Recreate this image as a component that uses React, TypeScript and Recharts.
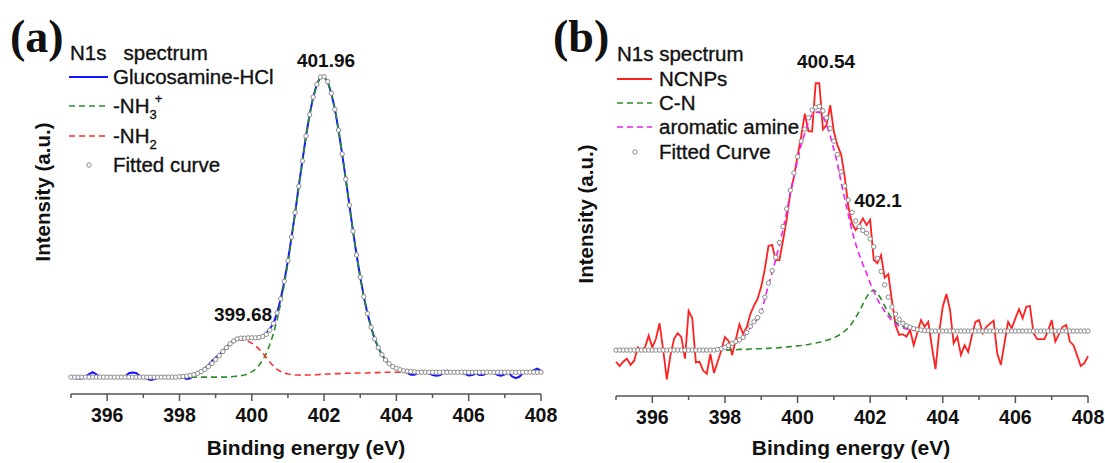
import { ComposedChart, Line, XAxis, YAxis } from "recharts";

// binding energy grid (eV), one point every 0.1 eV
const energy = [
  395.0, 395.1, 395.2, 395.3, 395.4, 395.5, 395.6, 395.7, 395.8, 395.9,
  396.0, 396.1, 396.2, 396.3, 396.4, 396.5, 396.6, 396.7, 396.8, 396.9,
  397.0, 397.1, 397.2, 397.3, 397.4, 397.5, 397.6, 397.7, 397.8, 397.9,
  398.0, 398.1, 398.2, 398.3, 398.4, 398.5, 398.6, 398.7, 398.8, 398.9,
  399.0, 399.1, 399.2, 399.3, 399.4, 399.5, 399.6, 399.7, 399.8, 399.9,
  400.0, 400.1, 400.2, 400.3, 400.4, 400.5, 400.6, 400.7, 400.8, 400.9,
  401.0, 401.1, 401.2, 401.3, 401.4, 401.5, 401.6, 401.7, 401.8, 401.9,
  402.0, 402.1, 402.2, 402.3, 402.4, 402.5, 402.6, 402.7, 402.8, 402.9,
  403.0, 403.1, 403.2, 403.3, 403.4, 403.5, 403.6, 403.7, 403.8, 403.9,
  404.0, 404.1, 404.2, 404.3, 404.4, 404.5, 404.6, 404.7, 404.8, 404.9,
  405.0, 405.1, 405.2, 405.3, 405.4, 405.5, 405.6, 405.7, 405.8, 405.9,
  406.0, 406.1, 406.2, 406.3, 406.4, 406.5, 406.6, 406.7, 406.8, 406.9,
  407.0, 407.1, 407.2, 407.3, 407.4, 407.5, 407.6, 407.7, 407.8, 407.9,
  408.0,
];

// (a) Glucosamine-HCl
const glucosamine = [
  4.6, 4.5, 4.4, 4.4, 4.9, 5.7, 6.2, 5.6, 4.8, 4.6,
  4.7, 4.9, 4.8, 4.6, 4.5, 5.0, 5.9, 6.1, 6.0, 5.2,
  4.7, 4.3, 4.0, 4.2, 4.7, 4.8, 4.9, 4.8, 4.8, 4.8,
  4.7, 4.6, 4.3, 4.5, 5.4, 6.0, 6.6, 7.3, 8.2, 9.4,
  10.4, 11.2, 12.3, 13.4, 14.3, 15.1, 15.6, 15.9, 15.9, 16.0,
  16.0, 16.0, 16.2, 16.6, 17.3, 18.6, 20.1, 23.1, 27.1, 32.1,
  38.0, 44.7, 51.7, 59.2, 66.4, 73.5, 79.6, 84.6, 88.2, 90.3,
  90.4, 89.0, 85.7, 81.1, 75.2, 68.4, 61.2, 53.8, 46.4, 39.6,
  33.3, 27.7, 22.9, 19.0, 15.7, 13.2, 11.2, 9.7, 8.6, 7.8,
  7.3, 6.8, 6.4, 6.0, 5.5, 5.5, 6.0, 6.2, 6.2, 5.9,
  5.4, 5.2, 5.3, 6.0, 6.6, 6.5, 6.2, 6.2, 6.1, 5.7,
  5.3, 5.4, 5.8, 5.4, 5.4, 6.0, 6.4, 6.1, 5.4, 5.2,
  5.6, 6.1, 5.0, 4.5, 4.9, 5.9, 6.3, 6.3, 6.8, 7.2,
  6.6,
];

const nh3 = [
  4.8, 4.8, 4.8, 4.8, 4.8, 4.8, 4.8, 4.8, 4.8, 4.8,
  4.8, 4.8, 4.8, 4.8, 4.8, 4.8, 4.8, 4.8, 4.8, 4.8,
  4.8, 4.8, 4.8, 4.8, 4.8, 4.8, 4.8, 4.8, 4.8, 4.8,
  4.8, 4.8, 4.8, 4.8, 4.8, 4.8, 4.8, 4.8, 4.8, 4.8,
  4.8, 4.8, 4.8, 4.8, 4.9, 5.0, 5.1, 5.2, 5.4, 5.8,
  6.3, 7.0, 8.2, 9.6, 11.5, 14.1, 17.2, 21.1, 25.8, 31.2,
  37.4, 44.3, 51.5, 59.1, 66.4, 73.5, 79.6, 84.6, 88.2, 90.3,
  90.4, 89.0, 85.7, 81.1, 75.2, 68.4, 61.2, 53.8, 46.4, 39.6,
  33.3, 27.7, 22.9, 19.0, 15.7, 13.2, 11.2, 9.7, 8.6, 7.8,
  7.3, 6.9, 6.6, 6.5, 6.4, 6.3, 6.2, 6.2, 6.2, 6.2,
  6.2, 6.2, 6.2, 6.2, 6.2, 6.2, 6.2, 6.2, 6.2, 6.2,
  6.2, 6.2, 6.2, 6.2, 6.2, 6.2, 6.2, 6.2, 6.2, 6.2,
  6.2, 6.2, 6.2, 6.2, 6.2, 6.2, 6.2, 6.2, 6.2, 6.2,
  6.2,
];

const nh2 = [
  4.8, 4.8, 4.8, 4.8, 4.8, 4.8, 4.8, 4.8, 4.8, 4.8,
  4.8, 4.8, 4.8, 4.8, 4.8, 4.8, 4.8, 4.8, 4.8, 4.8,
  4.8, 4.8, 4.8, 4.8, 4.8, 4.8, 4.8, 4.8, 4.8, 4.8,
  4.9, 5.0, 5.1, 5.3, 5.5, 5.9, 6.4, 7.0, 7.8, 8.7,
  9.8, 10.9, 12.1, 13.2, 14.2, 14.9, 15.4, 15.5, 15.3, 15.0,
  14.5, 13.8, 12.8, 11.7, 10.4, 9.1, 7.9, 7.0, 6.4, 6.0,
  5.7, 5.6, 5.4, 5.4, 5.3, 5.4, 5.4, 5.5, 5.5, 5.6,
  5.6, 5.7, 5.7, 5.8, 5.8, 5.8, 5.9, 5.9, 5.9, 6.0,
  6.0, 6.0, 6.0, 6.1, 6.1, 6.1, 6.2, 6.2, 6.2, 6.2,
  6.2, 6.2, 6.2, 6.2, 6.2, 6.2, 6.2, 6.2, 6.2, 6.2,
  6.2, 6.2, 6.2, 6.2, 6.2, 6.2, 6.2, 6.2, 6.2, 6.2,
  6.2, 6.2, 6.2, 6.2, 6.2, 6.2, 6.2, 6.2, 6.2, 6.2,
  6.2, 6.2, 6.2, 6.2, 6.2, 6.2, 6.2, 6.2, 6.2, 6.2,
  6.2,
];

const fittedA = [
  4.8, 4.8, 4.8, 4.8, 4.8, 4.8, 4.8, 4.8, 4.8, 4.8,
  4.8, 4.8, 4.8, 4.8, 4.8, 4.8, 4.8, 4.8, 4.8, 4.8,
  4.8, 4.8, 4.8, 4.8, 4.8, 4.8, 4.8, 4.8, 4.8, 4.8,
  4.9, 5.0, 5.1, 5.3, 5.5, 5.9, 6.4, 7.0, 7.8, 8.7,
  9.8, 10.9, 12.1, 13.2, 14.3, 15.1, 15.7, 15.9, 15.9, 16.0,
  16.0, 16.0, 16.1, 16.4, 17.0, 18.2, 20.1, 23.1, 27.1, 32.1,
  38.0, 44.7, 51.7, 59.2, 66.4, 73.5, 79.6, 84.6, 88.2, 90.3,
  90.4, 89.0, 85.7, 81.1, 75.2, 68.4, 61.2, 53.8, 46.4, 39.6,
  33.3, 27.7, 22.9, 19.0, 15.7, 13.2, 11.2, 9.7, 8.6, 7.8,
  7.3, 6.9, 6.6, 6.5, 6.4, 6.3, 6.2, 6.2, 6.2, 6.2,
  6.2, 6.2, 6.2, 6.2, 6.2, 6.2, 6.2, 6.2, 6.2, 6.2,
  6.2, 6.2, 6.2, 6.2, 6.2, 6.2, 6.2, 6.2, 6.2, 6.2,
  6.2, 6.2, 6.2, 6.2, 6.2, 6.2, 6.2, 6.2, 6.2, 6.2,
  6.2,
];

// (b) NCNPs
const ncnps = [
  9.7, 8.5, 9.7, 10.6, 8.8, 10.0, 13.8, 12.9, 13.8, 17.1,
  13.8, 16.2, 20.6, 13.0, 4.7, 11.6, 16.2, 17.8, 16.7, 10.6,
  24.1, 22.0, 9.5, 9.7, 7.2, 6.3, 11.9, 6.5, 9.7, 12.9,
  16.7, 15.6, 11.6, 16.0, 20.3, 17.6, 19.5, 23.2, 25.6, 27.5,
  31.0, 36.0, 42.5, 42.8, 38.5, 38.5, 44.0, 50.0, 57.5, 62.0,
  68.0, 73.5, 80.0, 75.0, 74.9, 88.6, 88.6, 75.5, 76.8, 82.4,
  74.9, 71.0, 68.5, 62.0, 53.6, 48.9, 47.0, 48.4, 50.3, 48.4,
  49.9, 38.5, 37.6, 39.9, 33.5, 34.5, 27.0, 20.0, 17.3, 17.5,
  16.8, 18.7, 14.4, 18.0, 21.5, 19.6, 21.0, 14.0, 7.6, 18.0,
  25.3, 28.9, 24.4, 14.9, 16.8, 11.6, 14.4, 12.5, 17.0, 21.0,
  21.5, 17.8, 19.6, 20.5, 21.3, 12.1, 8.8, 15.0, 21.0, 19.2,
  22.0, 24.6, 22.0, 25.3, 25.5, 17.8, 16.1, 16.1, 16.1, 18.5,
  21.5, 15.4, 17.5, 19.6, 20.1, 15.4, 14.4, 11.5, 8.5, 9.3,
  11.3,
];

const cn = [
  13.0, 13.0, 13.0, 13.0, 13.0, 13.0, 13.0, 13.0, 13.0, 13.0,
  13.0, 13.0, 13.0, 13.0, 13.0, 13.0, 13.0, 13.0, 13.0, 13.0,
  13.0, 13.0, 13.0, 13.0, 13.0, 13.0, 13.0, 13.0, 13.0, 13.0,
  13.0, 13.0, 13.1, 13.1, 13.2, 13.2, 13.2, 13.3, 13.3, 13.4,
  13.4, 13.5, 13.5, 13.6, 13.6, 13.7, 13.8, 13.9, 14.0, 14.1,
  14.2, 14.3, 14.5, 14.6, 14.8, 15.0, 15.2, 15.5, 15.8, 16.1,
  16.5, 17.0, 17.6, 18.4, 19.3, 20.6, 22.2, 24.0, 26.0, 28.0,
  29.5, 30.0, 29.2, 27.5, 25.5, 23.5, 22.0, 21.0, 20.2, 19.7,
  19.3, 19.1, 18.9, 18.7, 18.6, 18.5, 18.5, 18.4, 18.4, 18.4,
  18.4, 18.4, 18.4, 18.4, 18.4, 18.4, 18.4, 18.4, 18.4, 18.4,
  18.4, 18.4, 18.4, 18.4, 18.4, 18.4, 18.4, 18.4, 18.4, 18.4,
  18.4, 18.4, 18.4, 18.4, 18.4, 18.4, 18.4, 18.4, 18.4, 18.4,
  18.4, 18.4, 18.4, 18.4, 18.4, 18.4, 18.4, 18.4, 18.4, 18.4,
  18.4,
];

const aromatic = [
  13.0, 13.0, 13.0, 13.0, 13.0, 13.0, 13.0, 13.0, 13.0, 13.0,
  13.0, 13.0, 13.0, 13.0, 13.0, 13.0, 13.0, 13.0, 13.0, 13.0,
  13.0, 13.0, 13.0, 13.0, 13.0, 13.0, 13.0, 13.0, 13.2, 13.4,
  13.8, 14.3, 14.8, 15.3, 15.7, 16.4, 17.8, 19.4, 20.7, 21.8,
  23.6, 27.5, 31.5, 34.9, 38.7, 42.8, 47.2, 52.1, 57.3, 62.1,
  66.8, 71.1, 74.4, 77.6, 79.7, 80.4, 80.5, 79.1, 76.9, 73.7,
  69.9, 65.8, 60.5, 55.9, 51.3, 46.8, 43.1, 40.0, 37.3, 34.8,
  32.0, 29.6, 27.4, 25.6, 24.0, 22.6, 21.4, 20.5, 19.8, 19.3,
  19.0, 18.8, 18.6, 18.5, 18.5, 18.4, 18.4, 18.4, 18.4, 18.4,
  18.4, 18.4, 18.4, 18.4, 18.4, 18.4, 18.4, 18.4, 18.4, 18.4,
  18.4, 18.4, 18.4, 18.4, 18.4, 18.4, 18.4, 18.4, 18.4, 18.4,
  18.4, 18.4, 18.4, 18.4, 18.4, 18.4, 18.4, 18.4, 18.4, 18.4,
  18.4, 18.4, 18.4, 18.4, 18.4, 18.4, 18.4, 18.4, 18.4, 18.4,
  18.4,
];

const fittedB = [
  13.0, 13.0, 13.0, 13.0, 13.0, 13.0, 13.0, 13.0, 13.0, 13.0,
  13.0, 13.0, 13.0, 13.0, 13.0, 13.0, 13.0, 13.0, 13.0, 13.0,
  13.0, 13.0, 13.0, 13.0, 13.0, 13.0, 13.0, 13.0, 13.2, 13.4,
  13.8, 14.3, 14.9, 15.4, 15.9, 16.6, 18.0, 19.7, 21.0, 22.2,
  24.0, 28.0, 32.0, 35.5, 39.3, 43.5, 48.0, 53.0, 58.3, 63.2,
  67.8, 72.2, 75.6, 78.8, 81.0, 81.8, 82.0, 80.8, 78.8, 75.8,
  72.2, 68.4, 63.5, 59.5, 55.5, 52.0, 49.6, 48.0, 46.9, 46.1,
  44.5, 42.3, 39.0, 35.3, 31.5, 28.0, 25.2, 23.2, 21.7, 20.6,
  19.9, 19.5, 19.1, 18.8, 18.7, 18.5, 18.5, 18.4, 18.4, 18.4,
  18.4, 18.4, 18.4, 18.4, 18.4, 18.4, 18.4, 18.4, 18.4, 18.4,
  18.4, 18.4, 18.4, 18.4, 18.4, 18.4, 18.4, 18.4, 18.4, 18.4,
  18.4, 18.4, 18.4, 18.4, 18.4, 18.4, 18.4, 18.4, 18.4, 18.4,
  18.4, 18.4, 18.4, 18.4, 18.4, 18.4, 18.4, 18.4, 18.4, 18.4,
  18.4,
];

const xTicks = [395, 396, 397, 398, 399, 400, 401, 402, 403, 404, 405, 406, 407, 408];

const dataA = energy.map((e, i) => ({ e, glu: glucosamine[i], nh3: nh3[i], nh2: nh2[i], fit: fittedA[i] }));
const dataB = energy.map((e, i) => ({ e, raw: ncnps[i], cn: cn[i], aro: aromatic[i], fit: fittedB[i] }));

const SANS = "'Liberation Sans', Arial, sans-serif";
const FRAME = "#555";

function XTick(props: any) {
  const { x, y, payload } = props;
  const major = payload.value % 2 === 0;
  return (
    <g>
      <line x1={x} x2={x} y1={y} y2={y + (major ? 7 : 4)} stroke={FRAME} strokeWidth={1.5} />
      {major && (
        <text x={x} y={y + 28} textAnchor="middle" fontFamily={SANS} fontWeight="bold" fontSize={19.5} fill="#111">
          {payload.value}
        </text>
      )}
    </g>
  );
}

const dotStyle = { r: 2.2, fill: "#fff", stroke: "#8a8a8a", strokeWidth: 1 };

function Frame() {
  return [
    <XAxis key="xb" xAxisId={0} dataKey="e" type="number" domain={[395, 408]} ticks={xTicks} interval={0}
      tick={<XTick />} tickLine={false} tickSize={0} tickMargin={0} height={40}
      axisLine={{ stroke: FRAME, strokeWidth: 1.5 }} />,
    <XAxis key="xt" xAxisId="top" orientation="top" dataKey="e" type="number" domain={[395, 408]}
      tick={false} tickLine={false} height={0} axisLine={{ stroke: FRAME, strokeWidth: 1.5 }} />,
    <YAxis key="yl" yAxisId={0} type="number" domain={[0, 100]} tick={false} tickLine={false} width={0}
      axisLine={{ stroke: FRAME, strokeWidth: 1.5 }} />,
    <YAxis key="yr" yAxisId="r" orientation="right" type="number" domain={[0, 100]} tick={false} tickLine={false}
      width={0} axisLine={{ stroke: FRAME, strokeWidth: 1.5 }} />,
  ];
}

export default function App() {
  const txt = { fontFamily: SANS, fill: "#111" };
  // legend text is a little heavier than plain regular in the original
  const leg = { fontFamily: SANS, fill: "#111", stroke: "#111", strokeWidth: 0.35, fontSize: 20.5 };
  return (
    <div style={{ position: "absolute", left: 0, top: 0, width: 1105, height: 463, background: "#fff" }}>
      <div style={{ position: "absolute", left: 0, top: 0 }}>
        <ComposedChart width={560} height={463} data={dataA} margin={{ top: 43, right: 19, bottom: 29, left: 71 }}>
          {Frame()}
          <Line dataKey="glu" type="linear" stroke="#1515ff" strokeWidth={2} dot={false} activeDot={false} isAnimationActive={false} />
          <Line dataKey="nh3" type="linear" stroke="#2a8f2a" strokeWidth={1.6} strokeDasharray="6 4" dot={false} activeDot={false} isAnimationActive={false} />
          <Line dataKey="nh2" type="linear" stroke="#ff3030" strokeWidth={1.6} strokeDasharray="6 4" dot={false} activeDot={false} isAnimationActive={false} />
          <Line dataKey="fit" type="linear" stroke="none" dot={dotStyle} activeDot={false} isAnimationActive={false} />
        </ComposedChart>
      </div>
      <div style={{ position: "absolute", left: 560, top: 0 }}>
        <ComposedChart width={545} height={463} data={dataB} margin={{ top: 43, right: 17, bottom: 27, left: 56 }}>
          {Frame()}
          <Line dataKey="raw" type="linear" stroke="#ff2020" strokeWidth={1.8} dot={false} activeDot={false} isAnimationActive={false} />
          <Line dataKey="cn" type="linear" stroke="#2a8f2a" strokeWidth={1.6} strokeDasharray="6 4" dot={false} activeDot={false} isAnimationActive={false} />
          <Line dataKey="aro" type="linear" stroke="#f020f0" strokeWidth={1.6} strokeDasharray="6 4" dot={false} activeDot={false} isAnimationActive={false} />
          <Line dataKey="fit" type="linear" stroke="none" dot={dotStyle} activeDot={false} isAnimationActive={false} />
        </ComposedChart>
      </div>
      <svg width={1105} height={463} style={{ position: "absolute", left: 0, top: 0, pointerEvents: "none" }}>
        {/* panel letters */}
        <text x={10} y={52} fontFamily="'Liberation Serif', 'Times New Roman', serif" fontWeight="bold" fontSize={46} fill="#111">(a)</text>
        <text x={553} y={52} fontFamily="'Liberation Serif', 'Times New Roman', serif" fontWeight="bold" fontSize={46} fill="#111">(b)</text>

        {/* axis titles */}
        <text x={306} y={455} textAnchor="middle" fontWeight="bold" fontSize={21} {...txt}>Binding energy (eV)</text>
        <text x={851} y={455} textAnchor="middle" fontWeight="bold" fontSize={21} {...txt}>Binding energy (eV)</text>
        <text transform="translate(50,192) rotate(-90)" textAnchor="middle" fontWeight="bold" fontSize={20.5} {...txt}>Intensity (a.u.)</text>
        <text transform="translate(593,214) rotate(-90)" textAnchor="middle" fontWeight="bold" fontSize={20.5} {...txt}>Intensity (a.u.)</text>

        {/* peak labels */}
        <text x={326} y={67} textAnchor="middle" fontWeight="bold" fontSize={19} {...txt}>401.96</text>
        <text x={243} y={321} textAnchor="middle" fontWeight="bold" fontSize={19} {...txt}>399.68</text>
        <text x={826} y={68} textAnchor="middle" fontWeight="bold" fontSize={19} {...txt}>400.54</text>
        <text x={878} y={207} textAnchor="middle" fontWeight="bold" fontSize={19} {...txt}>402.1</text>

        {/* legend (a) */}
        <text x={70} y={60} {...leg} xmlSpace="preserve">N1s   spectrum</text>
        <line x1={69} x2={108} y1={77} y2={77} stroke="#1515ff" strokeWidth={2} />
        <text x={113} y={84} {...leg}>Glucosamine-HCl</text>
        <line x1={69} x2={108} y1={106} y2={106} stroke="#2a8f2a" strokeWidth={1.6} strokeDasharray="6 4" />
        <text x={113} y={113} {...leg}>-NH<tspan fontSize={13} dy={6}>3</tspan><tspan fontSize={13} dx={-2} dy={-16}>+</tspan></text>
        <line x1={69} x2={108} y1={136} y2={136} stroke="#ff3030" strokeWidth={1.6} strokeDasharray="6 4" />
        <text x={113} y={143} {...leg}>-NH<tspan fontSize={13} dy={6}>2</tspan></text>
        <circle cx={89} cy={165} r={2.2} fill="#fff" stroke="#8a8a8a" strokeWidth={1} />
        <text x={113} y={172} {...leg}>Fitted curve</text>

        {/* legend (b) */}
        <text x={617} y={61} {...leg}>N1s spectrum</text>
        <line x1={617} x2={652} y1={79} y2={79} stroke="#ff2020" strokeWidth={1.8} />
        <text x={659} y={86} {...leg}>NCNPs</text>
        <line x1={617} x2={652} y1={103} y2={103} stroke="#2a8f2a" strokeWidth={1.6} strokeDasharray="6 4" />
        <text x={659} y={110} {...leg}>C-N</text>
        <line x1={617} x2={652} y1={127} y2={127} stroke="#f020f0" strokeWidth={1.6} strokeDasharray="6 4" />
        <text x={659} y={134} {...leg}>aromatic amine</text>
        <circle cx={635} cy={152} r={2.2} fill="#fff" stroke="#8a8a8a" strokeWidth={1} />
        <text x={659} y={159} {...leg}>Fitted Curve</text>
      </svg>
    </div>
  );
}
